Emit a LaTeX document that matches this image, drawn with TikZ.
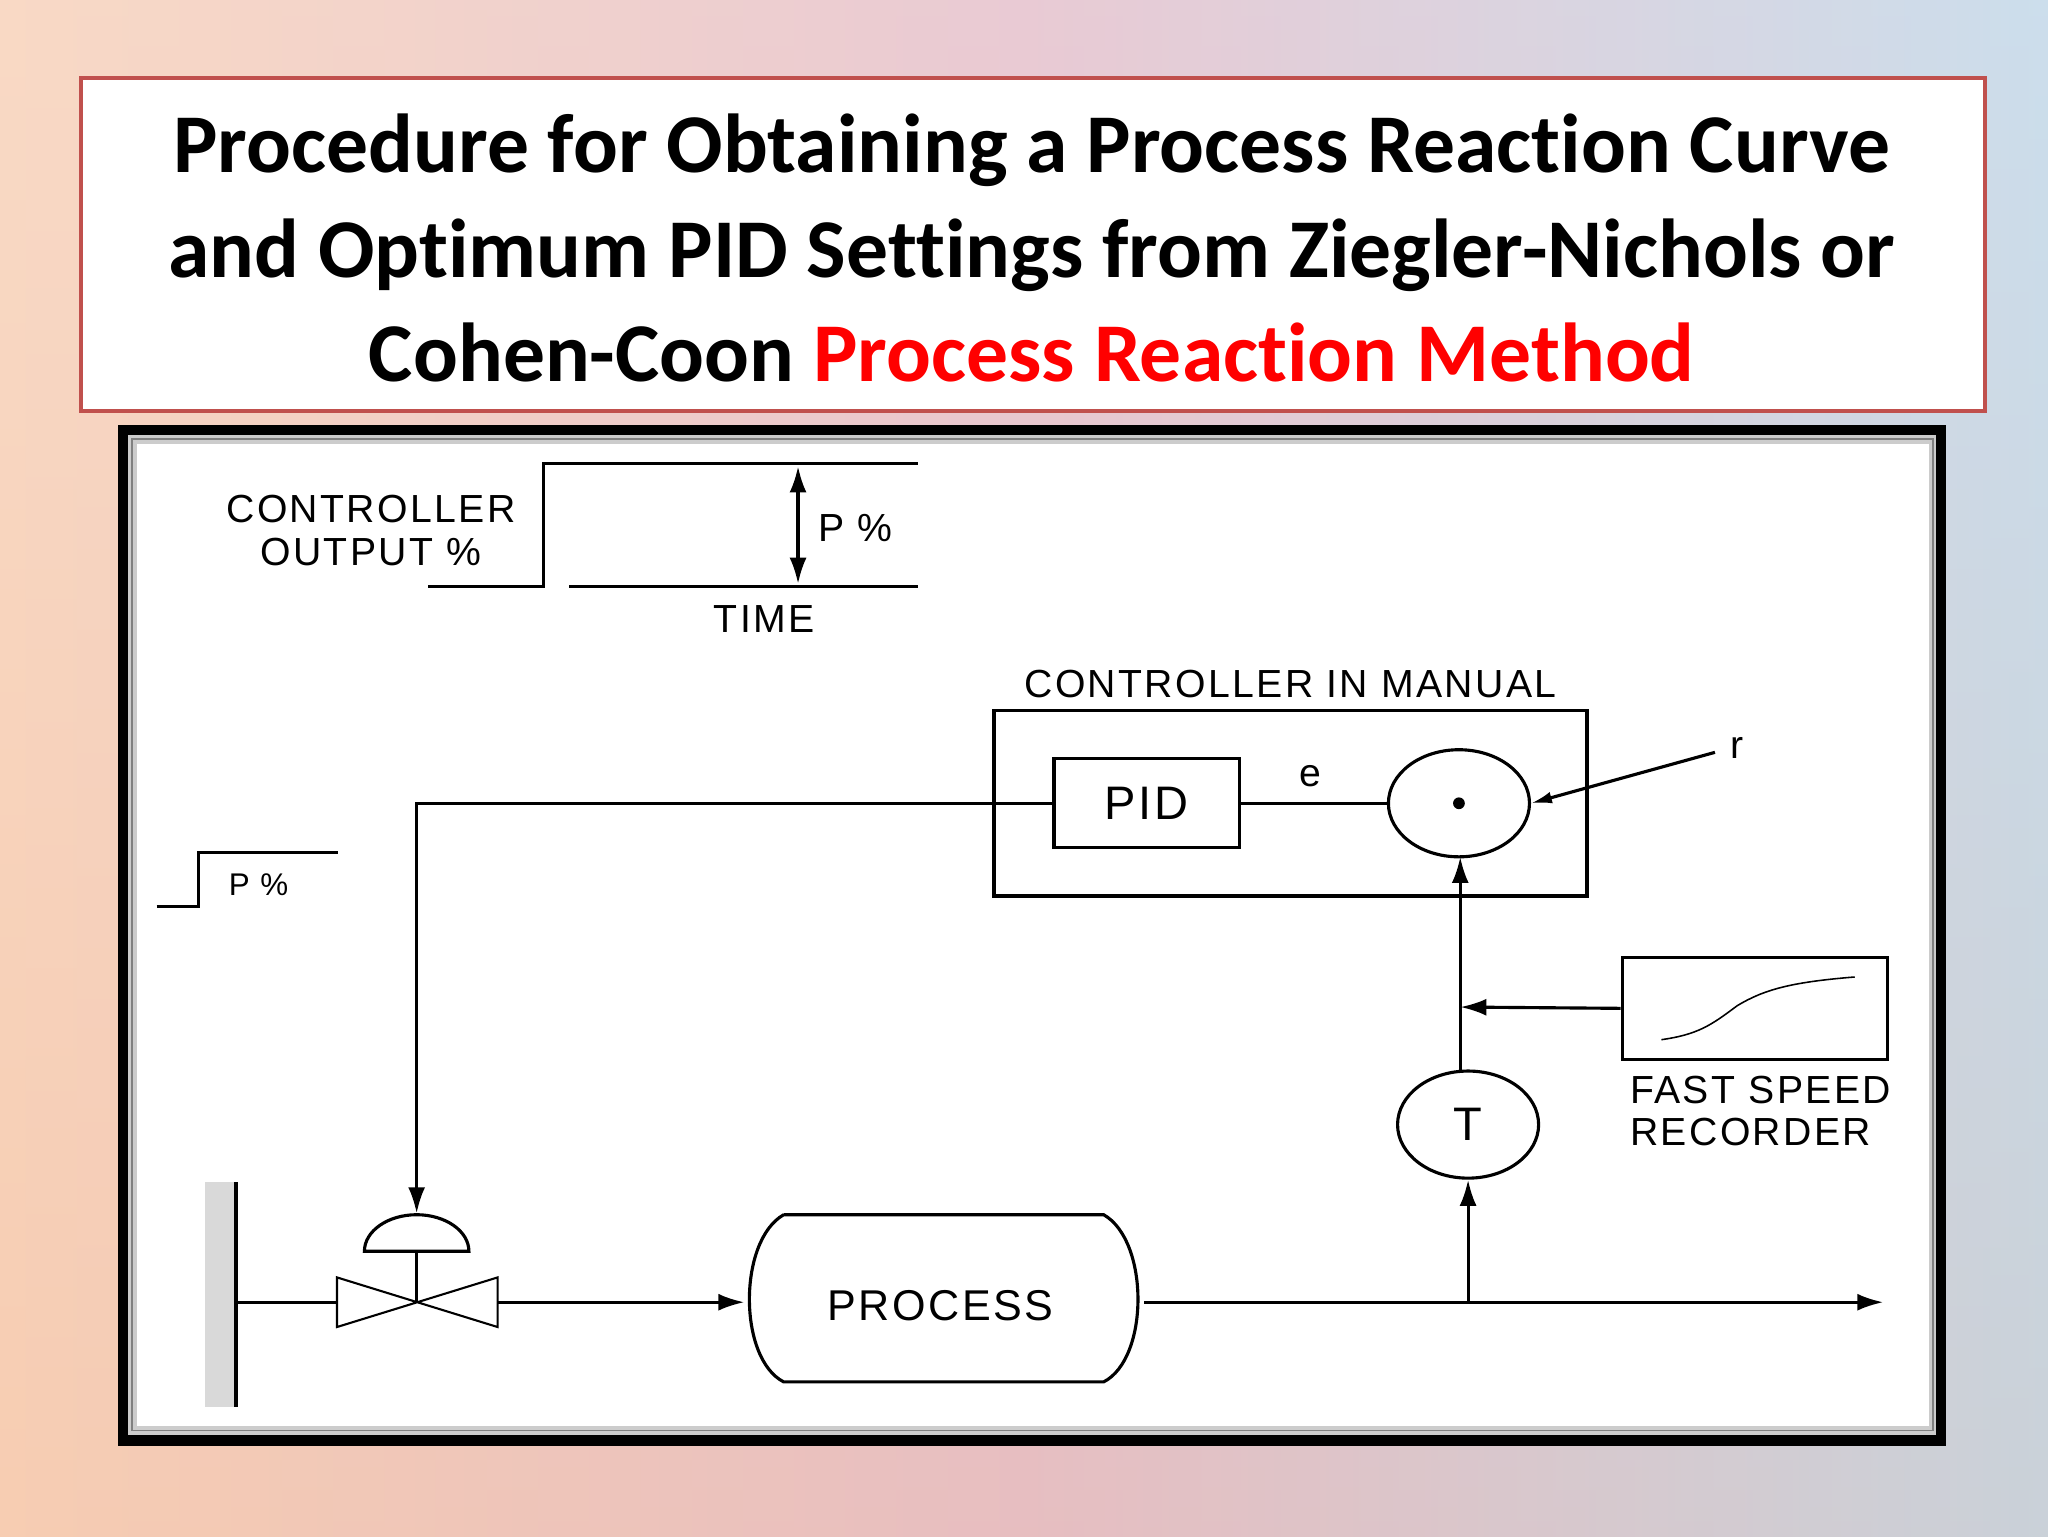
\documentclass[tikz,border=0pt]{standalone}
\usepackage{fontspec}
\setmainfont{Liberation Sans}[LetterSpace=6]
\newfontfamily\titlefont{Carlito}[RawFeature=-liga]
\usetikzlibrary{arrows.meta,shapes.geometric}
\definecolor{tred}{HTML}{C0504D}
\definecolor{redtxt}{HTML}{FF0000}
\definecolor{bgl}{HTML}{F7CDB2}
\definecolor{bgm}{HTML}{E2B9C6}
\definecolor{bgr}{HTML}{BBD3E6}
\tikzset{
  ln/.style={line width=2.4pt,black},
  arr/.style={ln,-{Latex[length=20pt,width=13pt]}},
  lbl/.style={font=\fontsize{30}{31}\selectfont,inner sep=0pt,align=left},
  circ/.style={ellipse,draw,line width=2.4pt,minimum width=108pt,minimum height=82pt,inner sep=0pt},
}
\begin{document}
\begin{tikzpicture}[x=1pt,y=-1pt]
\useasboundingbox (0,0) rectangle (1568,1176);
\shade[left color=bgl, right color=bgr, middle color=bgm] (0,0) rectangle (1568,1176);
\shade[top color=white,bottom color=bgl,opacity=0.25] (0,0) rectangle (1568,1176);
% title
\node[draw=tred,line width=3pt,fill=white,minimum width=1458pt,minimum height=255pt,inner sep=0pt] (title) at (791,187.5) {};
\node[font=\titlefont\bfseries\fontsize{64}{80}\selectfont,align=center] (tt) at (790,190)
 {Procedure for Obtaining a Process Reaction Curve\\ and Optimum PID Settings from Ziegler-Nichols or\\ Cohen-Coon {\color{redtxt}Process Reaction Method}};
% frame
\fill[black] (90,325) rectangle (1490,1107);
\fill[gray!40] (98,333) rectangle (1482,1099);
\fill[white] (105,340) rectangle (1477,1092);
\draw[gray,line width=1pt] (101,336) rectangle (1480,1095);
% controller output step
\node[lbl,align=center] (co) at (284,406) {CONTROLLER\\[2pt]OUTPUT \%};
\draw[ln] (328,449) -- (416,449) -- (416,355) -- (703,355);
\draw[ln] (436,449) -- (703,449);
\coordinate (pa) at (611,357); \coordinate (pb) at (611,447);
\draw[ln,{Latex[length=20pt,width=13pt]}-{Latex[length=20pt,width=13pt]}] (pa) -- (pb);
\node[lbl] (p1) at (655,404) {P \%};
\node[lbl] (time) at (585,474) {TIME};
% controller
\node[lbl] (cim) at (988,524) {CONTROLLER IN MANUAL};
\node[draw,line width=2.4pt,minimum width=454pt,minimum height=142pt,inner sep=0pt] (cbox) at (988,615) {};
\node[draw,line width=2.4pt,minimum width=142pt,minimum height=68pt,inner sep=0pt,font=\fontsize{36}{36}\selectfont] (pid) at (878,615) {PID};
\node[circ] (sum) at (1117,615) {};
\fill (sum.center) circle (4.5pt);
\draw[ln] (pid.east) -- (sum.west);
\node[lbl] (e) at (1003,594) {e};
\node[lbl] (r) at (1330,573) {r};
\coordinate (rs) at (1313,576);
\draw[ln,-{Latex[length=16pt,width=9pt]}] (rs) -- (sum.east);
% small step
\coordinate (s1) at (120,694);
\draw[ln] (s1) -- (152,694) -- (152,653) -- (259,653);
\node[font=\fontsize{24}{24}\selectfont] (p2) at (198,677) {P \%};
% wall
\fill[gray!30] (157,905) rectangle (180,1077);
\draw[line width=3pt] (181,905) -- (181,1077);
% valve
\coordinate (vc) at (319,997);
\coordinate (vl) at (258,997);
\coordinate (vr) at (381,997);
\draw[line width=1.6pt] (258,978) -- (381,1016) -- (381,978) -- (258,1016) -- cycle;
\draw[ln] (vc) -- (319,958);
\draw[ln] (279,958) arc (180:360:40 and 28) -- cycle;
\coordinate (vt) at (319,929);
\draw[ln] (181,997) -- (vl);
% controller output line
\draw[arr] (pid.west) -| (vt);
% process
\node[minimum width=300pt,minimum height=128pt] (proc) at (723,994) {};
\draw[ln] (600,930) -- (845,930) .. controls (880,950) and (880,1040) .. (845,1058) -- (600,1058) .. controls (565,1040) and (565,950) .. (600,930);
\node[font=\fontsize{33}{33}\selectfont] (pt) at (720,1000) {PROCESS};
\coordinate (pin) at (570,997);
\draw[arr] (vr) -- (pin);
\coordinate (pout) at (876,997);
\coordinate (end) at (1442,997);
\draw[arr] (pout) -- (end);
% T
\node[circ,font=\fontsize{36}{36}\selectfont] (T) at (1124,861) {T};
\coordinate (tap) at (1124,997);
\draw[arr] (tap) -- (T.south);
\coordinate (ttop) at (1118,821);
\coordinate (sb) at (1118,656);
\draw[arr] (ttop) -- (sb);
% recorder
\node[draw,line width=2.4pt,minimum width=203pt,minimum height=78pt,inner sep=0pt] (rec) at (1343.5,772) {};
\coordinate (jn) at (1118,771);
\draw[arr] (rec.west) -- (jn);
\draw[line width=1.2pt] (1272,796) .. controls (1300,792) and (1310,785) .. (1330,770) .. controls (1350,758) and (1370,752) .. (1420,748);
\node[lbl,anchor=north west] (frt) at (1248,824) {FAST SPEED\\[1pt]RECORDER};
\end{tikzpicture}
\end{document}
